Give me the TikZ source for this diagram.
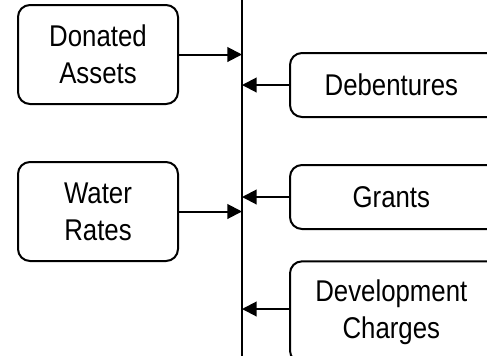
\documentclass[tikz,border=0pt]{standalone}
\usepackage{fontspec}
\setmainfont{Liberation Sans}[FakeStretch=0.86]
\usetikzlibrary{arrows.meta,calc}

\begin{document}
\begin{tikzpicture}[x=0.75pt, y=-0.75pt, line width=1.5pt,
source/.style={rectangle,draw,rounded corners=9pt,align=center,
  font=\fontsize{22.5}{28}\selectfont, inner sep=0pt},
inflow/.style={-{Triangle[length=11pt,width=11pt]}},
    ]
  \useasboundingbox (0,0) rectangle (487,355);
  \clip (0,0) rectangle (487,355);
  %% the fund line
  \coordinate (fundtop) at (242,0);
  \coordinate (fundbot) at (242,356);
  \draw[line width=2pt] (fundtop) -- (fundbot);
  %% left side
  \node[source, minimum width=120pt, minimum height=74.25pt] (donated) at (98,54.5) {Donated\\Assets};
  \node[source, minimum width=120pt, minimum height=74.25pt] (water) at (98,211.5) {Water\\Rates};
  %% right side
  \node[source, minimum width=165pt, minimum height=48pt] (debent) at (400,85) {\hspace*{-13pt}Debentures};
  \node[source, minimum width=165pt, minimum height=48pt] (grants) at (400,197) {\hspace*{-13pt}Grants};
  \node[source, minimum width=165pt, minimum height=76pt] (devchg) at (400,312) {\hspace*{-13pt}Development\\\hspace*{-13pt}Charges};
  \coordinate (devin) at ($(devchg.west)+(0,-3)$);
  %% arrows into the fund
  \draw[inflow] (donated.east) -- (donated.east -| fundtop);
  \draw[inflow] (water.east) -- (water.east -| fundtop);
  \draw[inflow] (debent.west) -- (debent.west -| fundtop);
  \draw[inflow] (grants.west) -- (grants.west -| fundtop);
  \draw[inflow] (devin) -- (devin -| fundtop);
\end{tikzpicture}
\end{document}
